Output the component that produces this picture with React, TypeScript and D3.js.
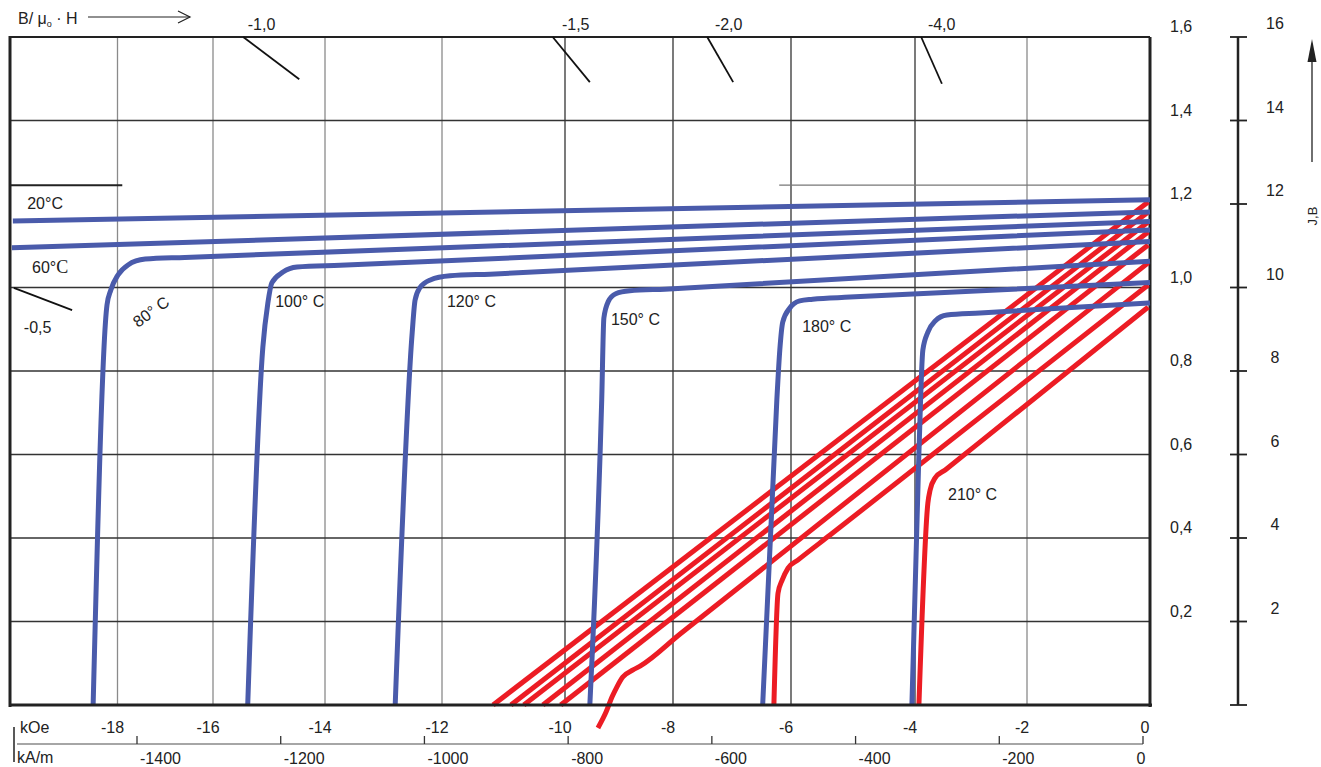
import { useRef, useEffect } from "react";
import * as d3 from "d3";

// H in kOe, B / J in T
const kOeGrid = [-20.25, -18, -16, -14, -12, -10, -8, -6, -4, -2, 0];
const kOeTicks = [-18, -16, -14, -12, -10, -8, -6, -4, -2, 0];
const kAmTicks = [-1400, -1200, -1000, -800, -600, -400, -200, 0];
const bTicks = [0.2, 0.4, 0.6, 0.8, 1.0, 1.2, 1.4, 1.6];
const bGridLines = [0.2, 0.4, 0.6, 0.8, 1.0, 1.4, 1.6];
const jbTicks = [0, 2, 4, 6, 8, 10, 12, 14, 16];
const shiftedLine12 = 1.245; // the 1,2 line is drafted a little too high in the original

// intrinsic curves J(H), blue
const j20 = [[-20.19, 1.159], [0, 1.21]];
const j60 = [[-20.21, 1.095], [0, 1.181]];
const j80 = [[-18.51, 0], [-18.22, 0.958], [-18.14, 0.994], [-17.99, 1.03], [-17.78, 1.054], [-17.42, 1.068], [-16.59, 1.072], [0, 1.158]];
const j100 = [[-15.38, 0], [-15.11, 0.857], [-15.02, 0.963], [-14.95, 1.011], [-14.75, 1.037], [-14.5, 1.049], [-13.74, 1.053], [0, 1.138]];
const j120 = [[-12.8, 0], [-12.51, 0.891], [-12.46, 0.97], [-12.38, 0.999], [-12.2, 1.018], [-11.87, 1.028], [-11.22, 1.032], [0, 1.11]];
const j150 = [[-9.54, 0], [-9.32, 0.731], [-9.28, 0.927], [-9.2, 0.966], [-9.06, 0.985], [-8.8, 0.992], [-8.15, 0.996], [0, 1.063]];
const j180 = [[-6.48, 0], [-6.24, 0.731], [-6.19, 0.85], [-6.14, 0.917], [-6.02, 0.951], [-5.86, 0.968], [-5.65, 0.972], [-5.05, 0.977], [0, 1.012]];
const j210 = [[-4.05, 0], [-3.93, 0.604], [-3.86, 0.85], [-3.77, 0.893], [-3.64, 0.92], [-3.43, 0.934], [-2.84, 0.939], [0, 0.963]];

// normal curves B(H), red
const b20 = [[-11.17, 0], [-0.03, 1.205]];
const b60 = [[-10.88, 0], [-0.03, 1.181]];
const b80 = [[-10.67, 0], [-0.03, 1.157]];
const b100 = [[-10.36, 0], [-0.03, 1.133]];
const b120 = [[-10.07, 0], [-0.03, 1.102]];
const b150 = [[-9.39, -0.055], [-9.24, -0.017], [-9.13, 0.019], [-9.04, 0.043], [-8.93, 0.067], [-8.74, 0.084], [-8.61, 0.093], [-7.88, 0.17], [-0.03, 1.059]];
const b180 = [[-6.29, 0], [-6.22, 0.268], [-6.15, 0.299], [-6.05, 0.328], [-5.89, 0.347], [-5.37, 0.407], [-0.03, 1.006]];
const b210 = [[-3.93, 0], [-3.77, 0.484], [-3.73, 0.515], [-3.64, 0.544], [-3.46, 0.563], [-2.93, 0.62], [-0.03, 0.953]];

const jCurves = [j20, j60, j80, j100, j120, j150, j180, j210];
const bCurves = [b20, b60, b80, b100, b120, b150, b180, b210];

// working lines B/(mu0 H)
const loadLines = [
  { label: "-1,0", from: [-15.46, 1.6], to: [-14.46, 1.499], at: [-15.38, 1.617] },
  { label: "-1,5", from: [-10.2, 1.6], to: [-9.54, 1.492], at: [-10.05, 1.617] },
  { label: "-2,0", from: [-7.42, 1.6], to: [-6.98, 1.492], at: [-7.29, 1.617] },
  { label: "-4,0", from: [-3.89, 1.6], to: [-3.52, 1.488], at: [-3.77, 1.617] },
  { label: "-0,5", from: [-20.17, 0.999], to: [-18.95, 0.946], at: [-19.96, 0.891] },
];

const tempLabels = [
  { text: "20°C", at: [-19.89, 1.188], rotate: 0, serifC: false },
  { text: "60°", at: [-19.79, 1.035], rotate: 0, serifC: true },
  { text: "80° C", at: [-17.57, 0.903], rotate: -36, serifC: false },
  { text: "100° C", at: [-14.89, 0.953], rotate: 0, serifC: false },
  { text: "120° C", at: [-11.92, 0.953], rotate: 0, serifC: false },
  { text: "150° C", at: [-9.15, 0.91], rotate: 0, serifC: false },
  { text: "180° C", at: [-5.82, 0.893], rotate: 0, serifC: false },
  { text: "210° C", at: [-3.41, 0.491], rotate: 0, serifC: false },
];

const FONT = "'Liberation Sans', Arial, Helvetica, sans-serif";
const BLUE = "#4a5bab";
const RED = "#ec1c24";
const FS = "16px";

const App = () => {
  const svgRef = useRef(null);

  useEffect(() => {
    const svg = d3.select(svgRef.current);
    svg.selectAll("*").remove();

    const left = 10;
    const right = 1150;
    const top = 37;
    const bottom = 705;

    // the drafted grid is not evenly spaced, so the H scale is piecewise
    const x = d3
      .scaleLinear()
      .domain(kOeGrid)
      .range([left, 117.5, 213, 325, 442, 565, 673, 791, 915, 1027, right]);
    const y = d3.scaleLinear().domain([0, 1.6]).range([bottom, top]);
    const kAm = d3.scaleLinear().domain([-1400, 0]).range([137, 1143]);
    const jb = d3.scaleLinear().domain([0, 16]).range([bottom, top]);

    const g = svg.append("g").style("font-family", FONT);

    // vertical grid
    const darkCols = [-10, -8, -6, -4];
    g.selectAll(".grid-x")
      .data(kOeTicks.filter((d) => d !== 0))
      .enter()
      .append("line")
      .attr("x1", (d) => x(d))
      .attr("x2", (d) => x(d))
      .attr("y1", top)
      .attr("y2", bottom)
      .style("stroke", (d) => (darkCols.includes(d) ? "#333" : "#8a8a8a"))
      .style("stroke-width", 1.3);

    // horizontal grid
    g.selectAll(".grid-y")
      .data(bGridLines)
      .enter()
      .append("line")
      .attr("x1", left)
      .attr("x2", right)
      .attr("y1", (d) => y(d))
      .attr("y2", (d) => y(d))
      .style("stroke", (d) => (d === 1.6 ? "#222" : "#333"))
      .style("stroke-width", (d) => (d === 1.6 ? 2 : 1.5));

    // the broken 1,2 line
    g.append("line")
      .attr("x1", left)
      .attr("x2", x(-17.9))
      .attr("y1", y(shiftedLine12))
      .attr("y2", y(shiftedLine12))
      .style("stroke", "#222")
      .style("stroke-width", 2);
    g.append("line")
      .attr("x1", x(-6.2))
      .attr("x2", right)
      .attr("y1", y(shiftedLine12))
      .attr("y2", y(shiftedLine12))
      .style("stroke", "#777")
      .style("stroke-width", 1.3);

    // frame
    g.append("line")
      .attr("x1", left)
      .attr("x2", left)
      .attr("y1", top - 1)
      .attr("y2", bottom + 2)
      .style("stroke", "#222")
      .style("stroke-width", 3);
    g.append("line")
      .attr("x1", right)
      .attr("x2", right)
      .attr("y1", top)
      .attr("y2", bottom + 2)
      .style("stroke", "#222")
      .style("stroke-width", 3);

    // working lines
    loadLines.forEach((d) => {
      g.append("line")
        .attr("x1", x(d.from[0]))
        .attr("y1", y(d.from[1]))
        .attr("x2", x(d.to[0]))
        .attr("y2", y(d.to[1]))
        .style("stroke", "#111")
        .style("stroke-width", 1.8);
      g.append("text")
        .attr("x", x(d.at[0]))
        .attr("y", y(d.at[1]))
        .style("font-size", FS)
        .style("fill", "#222")
        .text(d.label);
    });

    const line = d3
      .line()
      .x((d) => x(d[0]))
      .y((d) => y(d[1]))
      .curve(d3.curveMonotoneX);

    // red B curves under the blue J curves
    bCurves.forEach((pts) => {
      g.append("path")
        .datum(pts)
        .attr("fill", "none")
        .attr("stroke", RED)
        .attr("stroke-width", 5)
        .attr("d", line);
    });

    jCurves.forEach((pts) => {
      g.append("path")
        .datum(pts)
        .attr("fill", "none")
        .attr("stroke", BLUE)
        .attr("stroke-width", 5)
        .attr("d", line);
    });

    // bottom axis line
    g.append("line")
      .attr("x1", left - 1)
      .attr("x2", right + 2)
      .attr("y1", bottom)
      .attr("y2", bottom)
      .style("stroke", "#222")
      .style("stroke-width", 3);

    // temperature labels
    tempLabels.forEach((d) => {
      const t = g
        .append("text")
        .attr("transform", `translate(${x(d.at[0])},${y(d.at[1])}) rotate(${d.rotate})`)
        .style("font-size", FS)
        .style("fill", "#222")
        .text(d.text);
      if (d.serifC) {
        t.append("tspan")
          .style("font-family", "'Liberation Serif', 'Times New Roman', serif")
          .style("font-size", "18px")
          .text("C");
      }
    });

    // top left label with arrow
    const head = g.append("text").attr("x", 18).attr("y", 24).style("font-size", FS).style("fill", "#222");
    head.append("tspan").text("B/ μ");
    head.append("tspan").attr("dy", 3).style("font-size", "9px").text("o");
    head.append("tspan").attr("dy", -3).text(" · H");
    g.append("line").attr("x1", 88).attr("x2", 190).attr("y1", 17).attr("y2", 17).style("stroke", "#222").style("stroke-width", 1.2);
    g.append("path")
      .attr("d", "M178,11 L190,17 L178,23")
      .attr("fill", "none")
      .style("stroke", "#222")
      .style("stroke-width", 1.2);

    // B labels right of the frame
    g.selectAll(".b-label")
      .data(bTicks)
      .enter()
      .append("text")
      .attr("x", 1170)
      .attr("y", (d) => y(d) - 5)
      .style("font-size", FS)
      .style("fill", "#222")
      .text((d) => d3.format(".1f")(d).replace(".", ","));

    // J,B axis
    g.append("line")
      .attr("x1", 1238)
      .attr("x2", 1238)
      .attr("y1", jb(16))
      .attr("y2", jb(0))
      .style("stroke", "#222")
      .style("stroke-width", 2.5);
    g.selectAll(".jb-tick")
      .data(jbTicks)
      .enter()
      .append("line")
      .attr("x1", 1230)
      .attr("x2", 1247)
      .attr("y1", (d) => jb(d))
      .attr("y2", (d) => jb(d))
      .style("stroke", "#222")
      .style("stroke-width", 1.8);
    g.selectAll(".jb-label")
      .data(jbTicks.filter((d) => d > 0))
      .enter()
      .append("text")
      .attr("x", 1275)
      .attr("y", (d) => jb(d) - 8)
      .attr("text-anchor", "middle")
      .style("font-size", FS)
      .style("fill", "#222")
      .text((d) => d);

    // arrow and J,B
    g.append("line").attr("x1", 1312).attr("x2", 1312).attr("y1", 162).attr("y2", 58).style("stroke", "#222").style("stroke-width", 1.3);
    g.append("path").attr("d", "M1312,39 L1307.5,62 L1316.5,62 Z").attr("fill", "#222");
    g.append("text")
      .attr("transform", "translate(1317,216) rotate(-90)")
      .attr("text-anchor", "middle")
      .style("font-size", "13px")
      .style("fill", "#222")
      .text("J,B");

    // kOe labels
    g.selectAll(".koe-label")
      .data(kOeTicks)
      .enter()
      .append("text")
      .attr("x", (d) => x(d) - 5)
      .attr("y", 733)
      .attr("text-anchor", "middle")
      .style("font-size", FS)
      .style("fill", "#222")
      .text((d) => d);
    g.append("text").attr("x", 20).attr("y", 733).style("font-size", FS).style("fill", "#222").text("kOe");

    // kA/m axis
    g.append("line")
      .attr("x1", kAm(-1567))
      .attr("x2", kAm(0))
      .attr("y1", 744)
      .attr("y2", 744)
      .style("stroke", "#888")
      .style("stroke-width", 1.5);
    g.selectAll(".kam-tick")
      .data(kAmTicks)
      .enter()
      .append("line")
      .attr("x1", (d) => kAm(d))
      .attr("x2", (d) => kAm(d))
      .attr("y1", 736)
      .attr("y2", 744)
      .style("stroke", "#333")
      .style("stroke-width", 1.3);
    g.selectAll(".kam-label")
      .data(kAmTicks)
      .enter()
      .append("text")
      .attr("x", (d) => (d === 0 ? kAm(d) - 2 : kAm(d) + 3))
      .attr("y", 764)
      .attr("text-anchor", (d) => (d === 0 ? "middle" : "start"))
      .style("font-size", FS)
      .style("fill", "#222")
      .text((d) => d);
    g.append("text").attr("x", 17).attr("y", 763).style("font-size", FS).style("fill", "#222").text("kA/m");
    g.append("line").attr("x1", 14).attr("x2", 14).attr("y1", 727).attr("y2", 762).style("stroke", "#222").style("stroke-width", 1.5);
  }, []);

  return (
    <>
      <style>{`body { margin: 0; background: #fff; }`}</style>
      <svg ref={svgRef} width={1321} height={767} style={{ display: "block" }}></svg>
    </>
  );
};

export default App;
